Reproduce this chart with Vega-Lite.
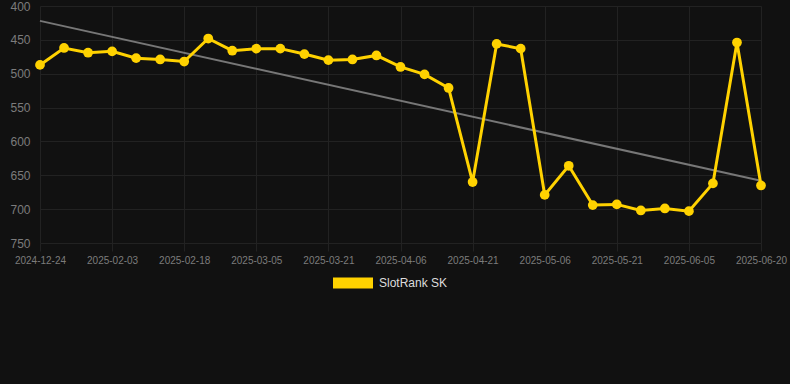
{
  "$schema": "https://vega.github.io/schema/vega-lite/v6.json",
  "width": 721,
  "height": 237,
  "autosize": {"type": "none"},
  "padding": {"left": 40, "top": 6, "right": 29, "bottom": 141},
  "background": "#111111",
  "config": {
    "view": {"stroke": null},
    "font": "Liberation Sans"
  },
  "datasets": {
    "rank": [
      {"date": "2024-12-24", "rank": 487, "series": "SlotRank SK"},
      {"date": "2025-01-24", "rank": 462, "series": "SlotRank SK"},
      {"date": "2025-01-29", "rank": 469, "series": "SlotRank SK"},
      {"date": "2025-02-03", "rank": 467, "series": "SlotRank SK"},
      {"date": "2025-02-08", "rank": 477, "series": "SlotRank SK"},
      {"date": "2025-02-13", "rank": 479, "series": "SlotRank SK"},
      {"date": "2025-02-18", "rank": 482, "series": "SlotRank SK"},
      {"date": "2025-02-23", "rank": 448, "series": "SlotRank SK"},
      {"date": "2025-02-28", "rank": 466, "series": "SlotRank SK"},
      {"date": "2025-03-05", "rank": 463, "series": "SlotRank SK"},
      {"date": "2025-03-10", "rank": 463, "series": "SlotRank SK"},
      {"date": "2025-03-16", "rank": 471, "series": "SlotRank SK"},
      {"date": "2025-03-21", "rank": 480, "series": "SlotRank SK"},
      {"date": "2025-03-26", "rank": 479, "series": "SlotRank SK"},
      {"date": "2025-04-01", "rank": 473, "series": "SlotRank SK"},
      {"date": "2025-04-06", "rank": 490, "series": "SlotRank SK"},
      {"date": "2025-04-11", "rank": 501, "series": "SlotRank SK"},
      {"date": "2025-04-16", "rank": 521, "series": "SlotRank SK"},
      {"date": "2025-04-21", "rank": 660, "series": "SlotRank SK"},
      {"date": "2025-04-26", "rank": 456, "series": "SlotRank SK"},
      {"date": "2025-05-01", "rank": 463, "series": "SlotRank SK"},
      {"date": "2025-05-06", "rank": 679, "series": "SlotRank SK"},
      {"date": "2025-05-11", "rank": 636, "series": "SlotRank SK"},
      {"date": "2025-05-16", "rank": 694, "series": "SlotRank SK"},
      {"date": "2025-05-21", "rank": 693, "series": "SlotRank SK"},
      {"date": "2025-05-26", "rank": 702, "series": "SlotRank SK"},
      {"date": "2025-05-31", "rank": 699, "series": "SlotRank SK"},
      {"date": "2025-06-05", "rank": 703, "series": "SlotRank SK"},
      {"date": "2025-06-10", "rank": 662, "series": "SlotRank SK"},
      {"date": "2025-06-15", "rank": 454, "series": "SlotRank SK"},
      {"date": "2025-06-20", "rank": 665, "series": "SlotRank SK"}
    ],
    "trend": [
      {"date": "2024-12-24", "trend": 422},
      {"date": "2025-06-20", "trend": 658}
    ]
  },
  "encoding": {
    "x": {
      "field": "date",
      "type": "ordinal",
      "sort": "ascending",
      "scale": {"type": "point", "padding": 0},
      "axis": {
        "title": null,
        "values": ["2024-12-24", "2025-02-03", "2025-02-18", "2025-03-05", "2025-03-21", "2025-04-06", "2025-04-21", "2025-05-06", "2025-05-21", "2025-06-05", "2025-06-20"],
        "labelAngle": 0,
        "labelColor": "#7c7c7c",
        "labelFontSize": 10,
        "labelPadding": 4,
        "labelOverlap": false,
        "tickSize": 8,
        "tickColor": "#222222",
        "domain": false,
        "grid": true,
        "gridColor": "#222222",
        "gridWidth": 1
      }
    }
  },
  "layer": [
    {
      "data": {"name": "trend"},
      "mark": {"type": "line", "color": "#777777", "strokeWidth": 2},
      "encoding": {
        "y": {
          "field": "trend",
          "type": "quantitative",
          "scale": {"domain": [400, 750], "reverse": true, "nice": false, "zero": false},
          "axis": {
            "title": null,
            "values": [400, 450, 500, 550, 600, 650, 700, 750],
            "labelColor": "#7c7c7c",
            "labelFontSize": 12,
            "labelPadding": 10,
            "labelOverlap": false,
            "tickSize": 0,
            "domain": false,
            "grid": true,
            "gridColor": "#222222",
            "gridWidth": 1
          }
        }
      }
    },
    {
      "data": {"name": "rank"},
      "mark": {"type": "line", "strokeWidth": 3, "point": {"filled": true, "size": 95, "opacity": 1}},
      "encoding": {
        "y": {
          "field": "rank",
          "type": "quantitative",
          "scale": {"domain": [400, 750], "reverse": true, "nice": false, "zero": false},
          "axis": {
            "title": null,
            "values": [400, 450, 500, 550, 600, 650, 700, 750],
            "labelColor": "#7c7c7c",
            "labelFontSize": 12,
            "labelPadding": 10,
            "labelOverlap": false,
            "tickSize": 0,
            "domain": false,
            "grid": true,
            "gridColor": "#222222",
            "gridWidth": 1
          }
        },
        "color": {
          "field": "series",
          "type": "nominal",
          "scale": {"range": ["#FFD200"]},
          "legend": {
            "title": null,
            "orient": "none",
            "legendX": 303,
            "legendY": 267,
            "symbolType": "M-2,-0.55H2V0.55H-2Z",
            "symbolSize": 400,
            "symbolStrokeWidth": 0,
            "labelColor": "#dddddd",
            "labelFontSize": 12,
            "labelOffset": 16
          }
        }
      }
    }
  ]
}
